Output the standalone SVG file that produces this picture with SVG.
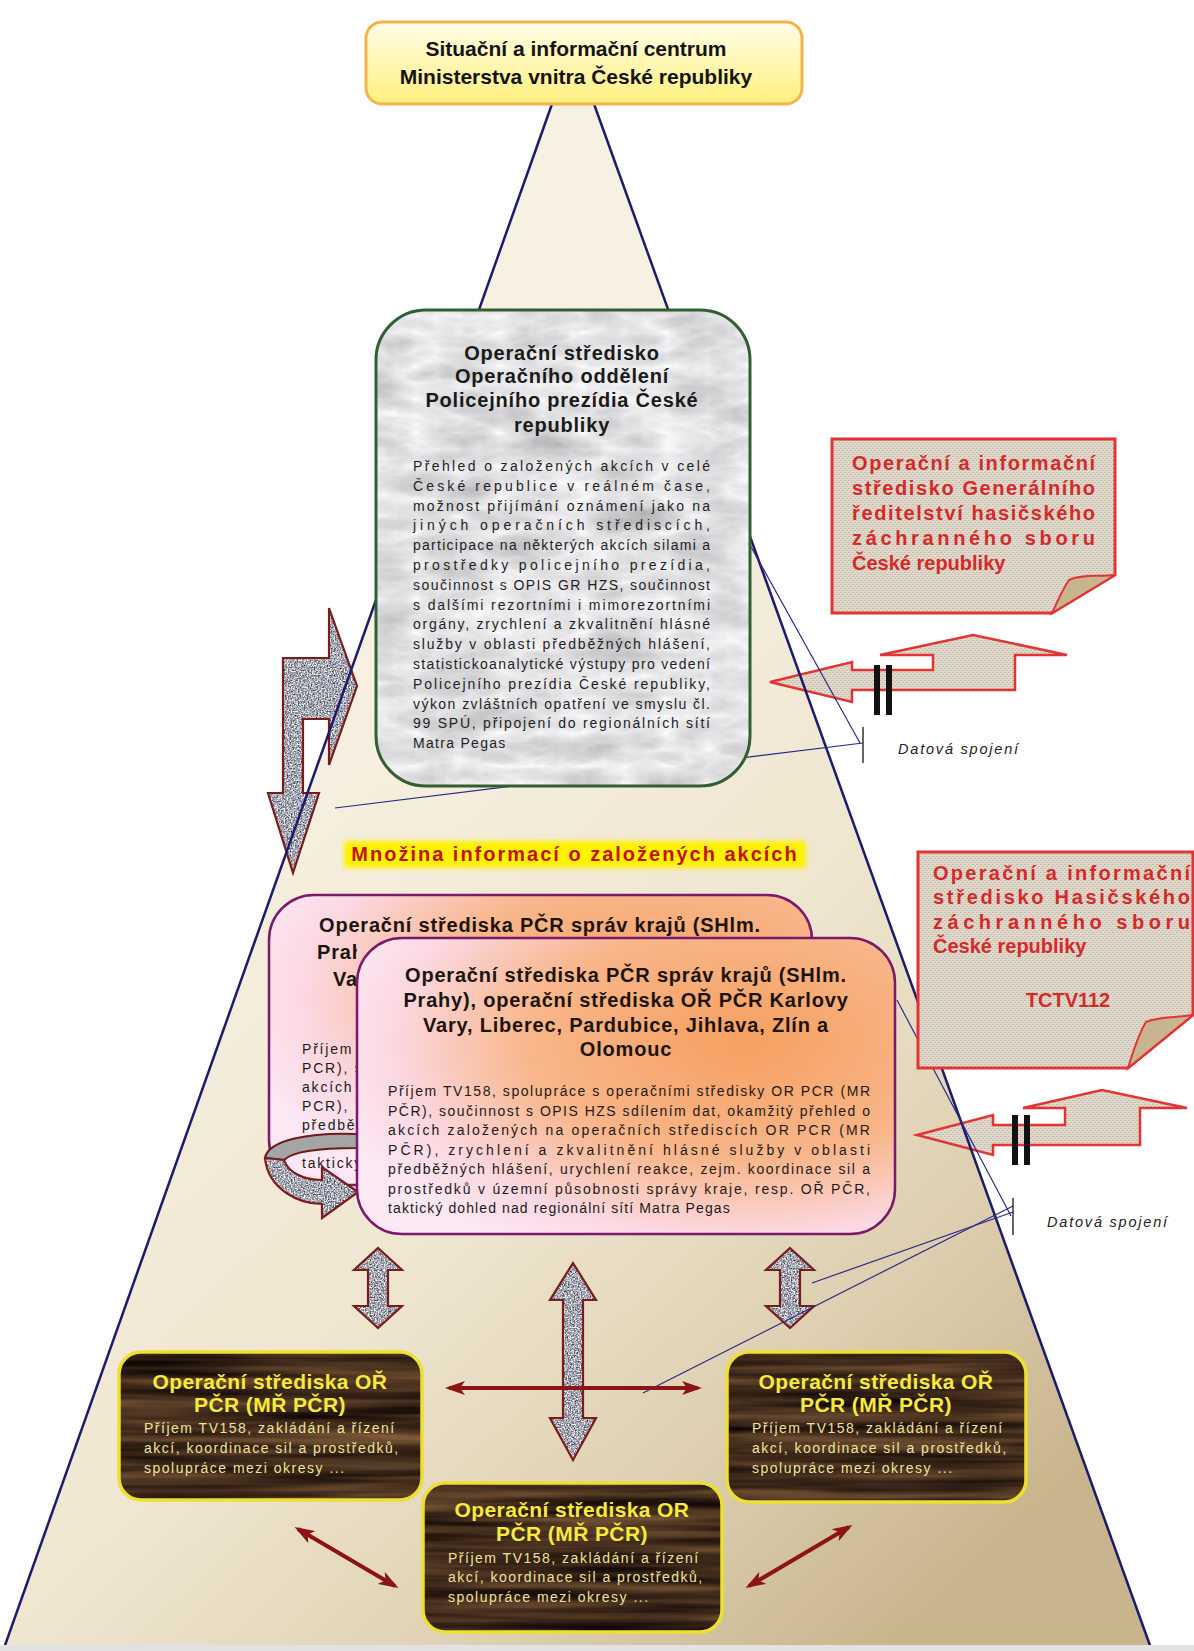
<svg xmlns="http://www.w3.org/2000/svg" width="1194" height="1651" viewBox="0 0 1194 1651">
<defs>
<style>
.tt{font-family:"Liberation Sans",Arial,sans-serif;font-weight:bold;font-size:21px;fill:#141414;text-anchor:middle}
.mt{font-family:"Liberation Sans",Arial,sans-serif;font-weight:bold;font-size:20px;letter-spacing:0.8px;fill:#1a1a1a;text-anchor:middle}
.mb{font-family:"Liberation Sans",Arial,sans-serif;font-size:14px;fill:#1e1e1e}
.nt{font-family:"Liberation Sans",Arial,sans-serif;font-weight:bold;font-size:20px;fill:#d42a2a}
.pt{font-family:"Liberation Sans",Arial,sans-serif;font-weight:bold;font-size:20px;letter-spacing:0.8px;fill:#1c1410;text-anchor:middle}
.pts{font-family:"Liberation Sans",Arial,sans-serif;font-weight:bold;font-size:20px;letter-spacing:0.8px;fill:#1c1410}
.pb{font-family:"Liberation Sans",Arial,sans-serif;font-size:14px;fill:#1e1a18}
.pbs{font-family:"Liberation Sans",Arial,sans-serif;font-size:14px;letter-spacing:1.8px;fill:#1e1a18}
.bt{font-family:"Liberation Sans",Arial,sans-serif;font-weight:bold;font-size:21px;letter-spacing:0.4px;fill:#f6ea3c;text-anchor:middle}
.bb{font-family:"Liberation Sans",Arial,sans-serif;font-size:14px;letter-spacing:1.5px;fill:#efe39a}
.mn{font-family:"Liberation Sans",Arial,sans-serif;font-weight:bold;font-size:20px;letter-spacing:2px;fill:#c2140e;text-anchor:middle}
.dt{font-family:"Liberation Sans",Arial,sans-serif;font-style:italic;font-size:14.5px;letter-spacing:1.8px;fill:#222}
.thin{stroke:#2a2a86;stroke-width:1.2;fill:none}
.tick{stroke:#333;stroke-width:1.5}
.edge{stroke:#1b1b6b;stroke-width:2.5;fill:none}
.garrow{fill:url(#speck);stroke:#7b1c1c;stroke-width:2.2;stroke-linejoin:miter}
.rarrow{fill:url(#weave);stroke:#e23434;stroke-width:2.5;stroke-linejoin:miter}
.note{fill:url(#weave);stroke:#e23434;stroke-width:3}
.flap{fill:#c8b590;stroke:#e23434;stroke-width:2}
.brown{fill:url(#wood);stroke:#eee030;stroke-width:3.5}
.redline{stroke:#8c1414;stroke-width:4;fill:none;marker-start:url(#rh);marker-end:url(#rh)}
.pink{stroke:#7a1a6a;stroke-width:2.5}
</style>
<linearGradient id="pyr" gradientUnits="userSpaceOnUse" x1="350" y1="650" x2="1100" y2="1450">
<stop offset="0" stop-color="#f7f1e2"/>
<stop offset="0.45" stop-color="#efe6d0"/>
<stop offset="0.75" stop-color="#ddcfb0"/>
<stop offset="1" stop-color="#c8b58d"/>
</linearGradient>
<linearGradient id="topg" x1="0" y1="0" x2="0" y2="1">
<stop offset="0" stop-color="#fffde8"/>
<stop offset="1" stop-color="#fff07e"/>
</linearGradient>
<radialGradient id="pinkg" cx="0.72" cy="0.35" r="0.8">
<stop offset="0" stop-color="#f6a060"/>
<stop offset="0.5" stop-color="#f8b68a"/>
<stop offset="0.82" stop-color="#fcd8e2"/>
<stop offset="1" stop-color="#fbe8f4"/>
</radialGradient>
<filter id="fSpeck" filterUnits="userSpaceOnUse" x="0" y="0" width="1194" height="1651" color-interpolation-filters="sRGB">
<feTurbulence type="fractalNoise" baseFrequency="0.7" numOctaves="2" seed="4"/>
<feColorMatrix type="matrix" values="1.5 0 0 0 -0.1  1.5 0 0 0 -0.09  1.5 0 0 0 -0.05  0 0 0 0 1"/>
</filter>
<filter id="fMarble" filterUnits="userSpaceOnUse" x="0" y="0" width="1194" height="1651" color-interpolation-filters="sRGB">
<feTurbulence type="turbulence" baseFrequency="0.012 0.03" numOctaves="4" seed="7"/>
<feColorMatrix type="matrix" values="-0.19 -0.19 0 0 1  -0.19 -0.19 0 0 1  -0.19 -0.19 0 0 1.01  0 0 0 0 1"/>
</filter>
<filter id="fWood" filterUnits="userSpaceOnUse" x="0" y="0" width="1194" height="1651" color-interpolation-filters="sRGB">
<feTurbulence type="fractalNoise" baseFrequency="0.004 0.09" numOctaves="3" seed="2"/>
<feColorMatrix type="matrix" values="0.6 0 0 0 -0.04  0.45 0 0 0 -0.05  0.28 0 0 0 -0.03  0 0 0 0 1"/>
</filter>
<filter id="fBlur" x="-10%" y="-40%" width="120%" height="180%">
<feGaussianBlur stdDeviation="2.5"/>
</filter>
<pattern id="speck" patternUnits="userSpaceOnUse" x="0" y="0" width="1194" height="1651">
<rect width="1194" height="1651" filter="url(#fSpeck)"/>
</pattern>
<pattern id="marble" patternUnits="userSpaceOnUse" x="0" y="0" width="1194" height="1651">
<rect width="1194" height="1651" filter="url(#fMarble)"/>
</pattern>
<pattern id="wood" patternUnits="userSpaceOnUse" x="0" y="0" width="1194" height="1651">
<rect width="1194" height="1651" filter="url(#fWood)"/>
</pattern>
<pattern id="weave" patternUnits="userSpaceOnUse" width="4" height="4">
<rect width="4" height="4" fill="#ddd5c7"/>
<rect x="0" y="0" width="2" height="1" fill="#c7bcaa"/>
<rect x="2" y="2" width="2" height="1" fill="#c7bcaa"/>
<rect x="1" y="1" width="1" height="1" fill="#efe9df"/>
<rect x="3" y="3" width="1" height="1" fill="#efe9df"/>
</pattern>
<marker id="rh" viewBox="0 0 20 14" refX="16" refY="7" markerWidth="20" markerHeight="14" markerUnits="userSpaceOnUse" orient="auto-start-reverse">
<path d="M0,0 L20,7 L0,14 L5,7 Z" fill="#8c1414"/>
</marker>
<clipPath id="backClip">
<rect x="0" y="0" width="1194" height="938"/>
<rect x="0" y="0" width="357" height="1651"/>
</clipPath>
</defs>

<rect width="1194" height="1651" fill="#ffffff"/>

<g id="pyramid">
<polygon points="552,104 594,104 1152,1651 3,1651" fill="url(#pyr)"/>
</g>

<g id="block-arrows">
<polygon class="garrow" points="283,658 329,658 329,608 357,686 329,765 329,719 303,719 303,793 319,793 293,873 268,793 283,793"/>
<polygon class="rarrow" points="770,682 852,662 852,670 933,670 933,655 880,655 973,635 1067,655 1015,655 1015,690 852,690 852,702"/>
<polygon class="rarrow" points="917,1135 993,1115 993,1125 1065,1125 1065,1108 1023,1108 1102,1090 1187,1108 1140,1108 1140,1145 993,1145 993,1155"/>
<polygon class="garrow" points="378,1248 402,1270 388,1270 388,1306 402,1306 378,1328 354,1306 368,1306 368,1270 354,1270"/>
<polygon class="garrow" points="790,1248 814,1270 800,1270 800,1306 814,1306 790,1328 766,1306 780,1306 780,1270 766,1270"/>
<polygon class="garrow" points="573,1263 596,1300 583,1300 583,1418 596,1418 573,1460 550,1418 563,1418 563,1300 550,1300"/>
</g>

<g id="pyramid-edges">
<line class="edge" x1="552" y1="104" x2="3" y2="1651"/>
<line class="edge" x1="594" y1="104" x2="1152" y2="1651"/>
</g>

<g id="connectors">
<line class="thin" x1="750" y1="545" x2="860" y2="743"/>
<line class="thin" x1="863" y1="743" x2="335" y2="808"/>
<line class="thin" x1="897" y1="1000" x2="1011" y2="1216"/>
<line class="thin" x1="1013" y1="1212" x2="812" y2="1283"/>
<line class="thin" x1="1013" y1="1206" x2="643" y2="1393"/>
<line class="tick" x1="863" y1="727" x2="863" y2="763"/>
<line class="tick" x1="1013" y1="1198" x2="1013" y2="1235"/>
<rect x="874" y="665" width="6" height="50" fill="#111"/>
<rect x="886" y="665" width="6" height="50" fill="#111"/>
<rect x="1012" y="1115" width="6" height="50" fill="#111"/>
<rect x="1024" y="1115" width="6" height="50" fill="#111"/>
<line class="redline" x1="449" y1="1388" x2="698" y2="1388"/>
<line class="redline" x1="298" y1="1529" x2="395" y2="1586"/>
<line class="redline" x1="749" y1="1586" x2="849" y2="1527"/>
<text class="dt" x="898" y="754">Datová spojení</text>
<text class="dt" x="1047" y="1227">Datová spojení</text>
</g>

<g id="node-sic">
<rect x="366" y="22" width="436" height="82" rx="16" fill="url(#topg)" stroke="#f2b448" stroke-width="3"/>
<text class="tt" x="576" y="56">Situační a informační centrum</text>
<text class="tt" x="576" y="84">Ministerstva vnitra České republiky</text>
</g>

<g id="node-os-pp">
<rect x="376" y="310" width="374" height="476" rx="50" fill="url(#marble)" stroke="#335e33" stroke-width="3"/>
<text class="mt" x="562" y="360">Operační středisko</text>
<text class="mt" x="562" y="383">Operačního oddělení</text>
<text class="mt" x="562" y="407">Policejního prezídia České</text>
<text class="mt" x="562" y="432">republiky</text>
<text class="mb" x="413" y="471" textLength="297" lengthAdjust="spacing">Přehled o založených akcích v celé</text>
<text class="mb" x="413" y="490.8" textLength="297" lengthAdjust="spacing">České republice v reálném čase,</text>
<text class="mb" x="413" y="510.6" textLength="297" lengthAdjust="spacing">možnost přijímání oznámení jako na</text>
<text class="mb" x="413" y="530.4" textLength="297" lengthAdjust="spacing">jiných operačních střediscích,</text>
<text class="mb" x="413" y="550.2" textLength="297" lengthAdjust="spacing">participace na některých akcích silami a</text>
<text class="mb" x="413" y="570" textLength="297" lengthAdjust="spacing">prostředky policejního prezídia,</text>
<text class="mb" x="413" y="589.8" textLength="297" lengthAdjust="spacing">součinnost s OPIS GR HZS, součinnost</text>
<text class="mb" x="413" y="609.6" textLength="297" lengthAdjust="spacing">s dalšími rezortními i mimorezortními</text>
<text class="mb" x="413" y="629.4" textLength="297" lengthAdjust="spacing">orgány, zrychlení a zkvalitnění hlásné</text>
<text class="mb" x="413" y="649.2" textLength="297" lengthAdjust="spacing">služby v oblasti předběžných hlášení,</text>
<text class="mb" x="413" y="669" textLength="297" lengthAdjust="spacing">statistickoanalytické výstupy pro vedení</text>
<text class="mb" x="413" y="688.8" textLength="297" lengthAdjust="spacing">Policejního prezídia České republiky,</text>
<text class="mb" x="413" y="708.6" textLength="297" lengthAdjust="spacing">výkon zvláštních opatření ve smyslu čl.</text>
<text class="mb" x="413" y="728.4" textLength="297" lengthAdjust="spacing">99 SPÚ, připojení do regionálních sítí</text>
<text class="mb" x="413" y="748.2" letter-spacing="1.3">Matra Pegas</text>
</g>

<g id="node-opis-gr">
<path class="note" d="M832,439 H1115 V575 L1052,613 H832 Z"/>
<path class="flap" d="M1115,575 C1098,577 1082,574 1069,580 C1062,590 1057,603 1052,613 Z"/>
<text class="nt" x="852" y="470" textLength="243" lengthAdjust="spacing">Operační a informační</text>
<text class="nt" x="852" y="495" textLength="243" lengthAdjust="spacing">středisko Generálního</text>
<text class="nt" x="852" y="520" textLength="243" lengthAdjust="spacing">ředitelství hasičského</text>
<text class="nt" x="852" y="545" textLength="243" lengthAdjust="spacing">záchranného sboru</text>
<text class="nt" x="852" y="570">České republiky</text>
</g>

<g id="node-opis-hzs">
<path class="note" d="M918,852 H1193 V1015 L1128,1068 H918 Z"/>
<path class="flap" d="M1193,1015 C1175,1018 1160,1016 1146,1022 C1138,1035 1133,1052 1128,1068 Z"/>
<text class="nt" x="933" y="880" textLength="257" lengthAdjust="spacing">Operační a informační</text>
<text class="nt" x="933" y="904" textLength="257" lengthAdjust="spacing">středisko Hasičského</text>
<text class="nt" x="933" y="929" textLength="257" lengthAdjust="spacing">záchranného sboru</text>
<text class="nt" x="933" y="953">České republiky</text>
<text class="nt" x="1068" y="1007" text-anchor="middle">TCTV112</text>
</g>

<g id="label-mnozina">
<rect x="344" y="841" width="462" height="27" fill="#fff200" filter="url(#fBlur)"/>
<text class="mn" x="575" y="861">Množina informací o založených akcích</text>
</g>

<g id="node-os-kraje-back">
<rect class="pink" x="269" y="895" width="543" height="290" rx="45" fill="url(#pinkg)"/>
<g clip-path="url(#backClip)">
<text class="pt" x="540" y="932">Operační střediska PČR správ krajů (SHlm.</text>
<text class="pts" x="317" y="959">Prahy</text>
<text class="pts" x="333" y="986">Va</text>
<text class="pbs" x="302" y="1054">Příjem</text>
<text class="pbs" x="302" y="1073">PCR), s</text>
<text class="pbs" x="302" y="1092">akcích</text>
<text class="pbs" x="302" y="1111">PCR),</text>
<text class="pbs" x="302" y="1130">předbě</text>
<text class="pbs" x="302" y="1168">taktický</text>
</g>
<path d="M357,1134 C310,1132 268,1140 265,1158 L284,1160 C292,1152 320,1148 357,1148 Z" fill="#a5a5a5" stroke="#6e1a1a" stroke-width="2"/>
<path class="garrow" d="M265,1158 C268,1190 300,1204 322,1204 L322,1218 L358,1192 L322,1167 L322,1180 C303,1180 288,1172 284,1160 Z"/>
</g>

<g id="node-os-kraje">
<rect class="pink" x="357" y="938" width="538" height="296" rx="45" fill="url(#pinkg)"/>
<text class="pt" x="626" y="982">Operační střediska PČR správ krajů (SHlm.</text>
<text class="pt" x="626" y="1007">Prahy), operační střediska OŘ PČR Karlovy</text>
<text class="pt" x="626" y="1032">Vary, Liberec, Pardubice, Jihlava, Zlín a</text>
<text class="pt" x="626" y="1056">Olomouc</text>
<text class="pb" x="388" y="1096" textLength="482" lengthAdjust="spacing">Příjem TV158, spolupráce s operačními středisky OR PCR (MR</text>
<text class="pb" x="388" y="1115.5" textLength="482" lengthAdjust="spacing">PČR), součinnost s OPIS HZS sdílením dat, okamžitý přehled o</text>
<text class="pb" x="388" y="1135" textLength="482" lengthAdjust="spacing">akcích založených na operačních střediscích OR PCR (MR</text>
<text class="pb" x="388" y="1154.5" textLength="482" lengthAdjust="spacing">PČR), zrychlení a zkvalitnění hlásné služby v oblasti</text>
<text class="pb" x="388" y="1174" textLength="482" lengthAdjust="spacing">předběžných hlášení, urychlení reakce, zejm. koordinace sil a</text>
<text class="pb" x="388" y="1193.5" textLength="482" lengthAdjust="spacing">prostředků v územní působnosti správy kraje, resp. OŘ PČR,</text>
<text class="pb" x="388" y="1213" letter-spacing="1.1">taktický dohled nad regionální sítí Matra Pegas</text>
</g>

<g id="node-or-left">
<rect class="brown" x="119" y="1352" width="303" height="148" rx="22"/>
<text class="bt" x="270" y="1389">Operační střediska OŘ</text>
<text class="bt" x="270" y="1412">PČR (MŘ PČR)</text>
<text class="bb" x="144" y="1433">Příjem TV158, zakládání a řízení</text>
<text class="bb" x="144" y="1453">akcí, koordinace sil a prostředků,</text>
<text class="bb" x="144" y="1473">spolupráce mezi okresy ...</text>
</g>

<g id="node-or-right">
<rect class="brown" x="727" y="1352" width="299" height="150" rx="22"/>
<text class="bt" x="876" y="1389">Operační střediska OŘ</text>
<text class="bt" x="876" y="1412">PČR (MŘ PČR)</text>
<text class="bb" x="752" y="1433">Příjem TV158, zakládání a řízení</text>
<text class="bb" x="752" y="1453">akcí, koordinace sil a prostředků,</text>
<text class="bb" x="752" y="1473">spolupráce mezi okresy ...</text>
</g>

<g id="node-or-middle">
<rect class="brown" x="423" y="1483" width="299" height="149" rx="22"/>
<text class="bt" x="572" y="1517">Operační střediska OR</text>
<text class="bt" x="572" y="1541">PČR (MŘ PČR)</text>
<text class="bb" x="448" y="1563">Příjem TV158, zakládání a řízení</text>
<text class="bb" x="448" y="1582">akcí, koordinace sil a prostředků,</text>
<text class="bb" x="448" y="1602">spolupráce mezi okresy ...</text>
</g>

<rect x="0" y="1645" width="1194" height="6" fill="#e2e2e2"/>
</svg>
